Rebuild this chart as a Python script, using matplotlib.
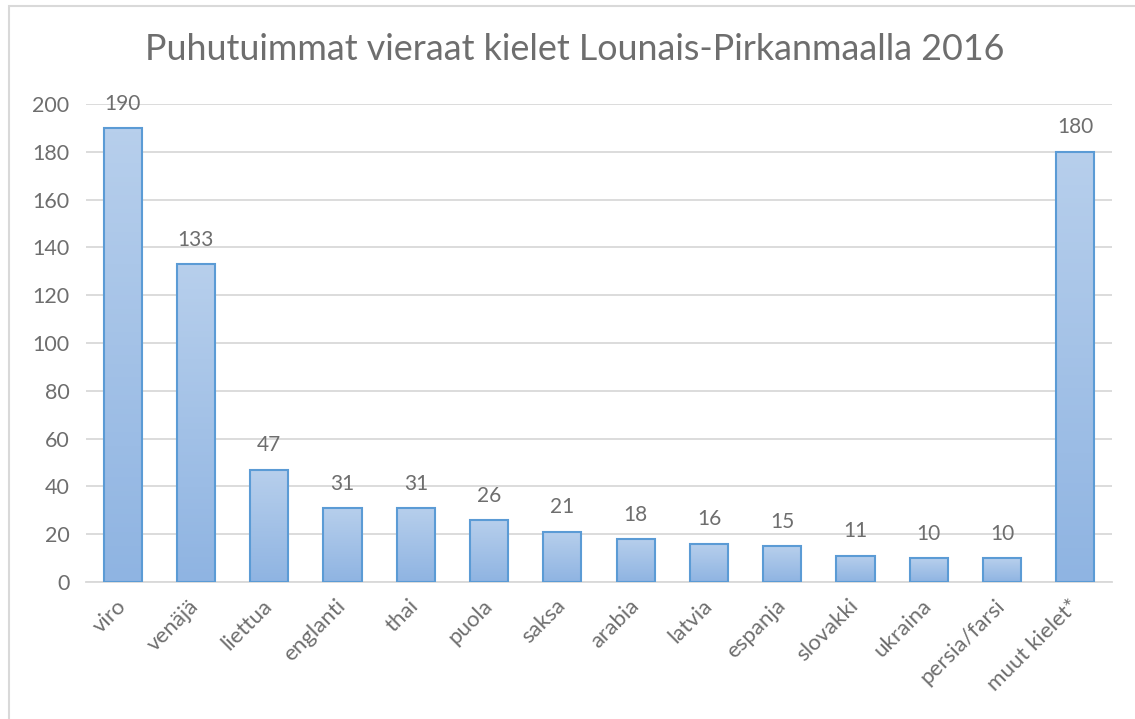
import matplotlib.pyplot as plt
import numpy as np
from matplotlib.patches import Rectangle
from matplotlib.colors import LinearSegmentedColormap

# %%
# Data
kielet = ['viro', 'venäjä', 'liettua', 'englanti', 'thai', 'puola', 'saksa',
          'arabia', 'latvia', 'espanja', 'slovakki', 'ukraina',
          'persia/farsi', 'muut kielet*']
puhujat = [190, 133, 47, 31, 31, 26, 21, 18, 16, 15, 11, 10, 10, 180]
y_ticks = [0, 20, 40, 60, 80, 100, 120, 140, 160, 180, 200]

plt.rcParams['font.family'] = ['Lato', 'DejaVu Sans']
grey = '#6e6e6e'

# %%
fig = plt.figure(figsize=(11.35, 7.19), dpi=100, facecolor='white')
ax = fig.add_axes([86 / 1135, 1 - 582 / 719, 1026 / 1135, 478 / 719])

x = np.arange(len(kielet))
bars = ax.bar(x, puhujat, width=0.52, facecolor='none', edgecolor='#5b9bd5',
              linewidth=1.5, zorder=3)

# Excel style gradient fill (light at top, darker at bottom)
grad = LinearSegmentedColormap.from_list('g', ['#8fb4e2', '#b7cfec'])
for b in bars:
    bx, by = b.get_x(), b.get_y()
    w, h = b.get_width(), b.get_height()
    im = ax.imshow(np.linspace(0, 1, 100).reshape(-1, 1), cmap=grad,
                   origin='lower', aspect='auto',
                   extent=[bx, bx + w, by, by + h], zorder=2)
    im.set_clip_path(b)

for xi, v in zip(x, puhujat):
    ax.text(xi, v + 6, str(v), ha='center', va='bottom', fontsize=15,
            color=grey)

ax.set_xlim(-0.5, len(kielet) - 0.5)
ax.set_ylim(0, 200)
ax.set_yticks(y_ticks)
ax.set_xticks(x)
ax.set_xticklabels(kielet, rotation=45, ha='right', va='center',
                   rotation_mode='anchor', fontsize=16, color=grey)
ax.tick_params(axis='y', labelsize=15.5, labelcolor=grey, length=0, pad=12)
ax.tick_params(axis='x', length=0, pad=15)
ax.grid(axis='y', color='#d9d9d9', linewidth=1.3, zorder=0)
ax.set_axisbelow(True)
for s in ['top', 'right', 'left']:
    ax.spines[s].set_visible(False)
ax.spines['bottom'].set_color('#d9d9d9')
ax.spines['bottom'].set_linewidth(1.3)

fig.suptitle('Puhutuimmat vieraat kielet Lounais-Pirkanmaalla 2016',
             x=575 / 1135, y=1 - 50 / 719, va='center', fontsize=25.8,
             fontweight='normal', color=grey)

# chart area border
fig.patches.append(Rectangle((9 / 1135, -0.1), 1.2, 1 - 6 / 719 + 0.1,
                             transform=fig.transFigure, fill=False,
                             edgecolor='#d9d9d9', linewidth=1.5))

fig.savefig('out.png', dpi=100, facecolor='white')
